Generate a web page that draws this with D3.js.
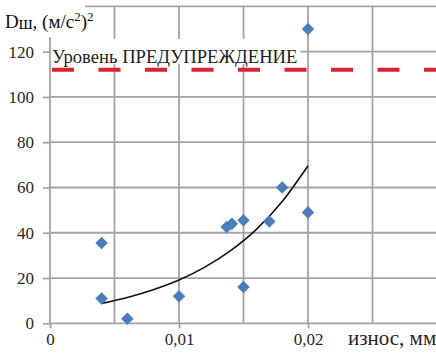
<!DOCTYPE html>
<html>
<head>
<meta charset="utf-8">
<script src="https://cdn.jsdelivr.net/npm/d3@7"></script>
<style>
  html, body { margin: 0; padding: 0; background: #fff; overflow: hidden; }
  svg { display: block; }
</style>
</head>
<body>
<svg id="chart" width="436" height="361"></svg>
<script>
// Wear of the bearing (mm) against vibration parameter Dш, (m/s²)²
const wear = [0.004, 0.004, 0.006, 0.010, 0.0137, 0.0141, 0.015, 0.015, 0.017, 0.018, 0.020, 0.020];
const dsh  = [35.5, 11, 2, 12, 42.5, 44, 45.5, 16, 45, 60, 49, 130];

// Trend curve read along its course
const trendX = [0.004, 0.006, 0.008, 0.010, 0.012, 0.014, 0.016, 0.018, 0.020];
const trendY = [8.8, 11.4, 14.8, 19.1, 24.8, 32.1, 41.5, 53.8, 69.6];

// Warning threshold
const warningLevel = 112;
const warningLabel = "Уровень ПРЕДУПРЕЖДЕНИЕ";

const yTicks = [0, 20, 40, 60, 80, 100, 120];
const yGrid = [20, 40, 60, 80, 100, 120, 140];
const xLabelTicks = [0, 0.01, 0.02];
const xGrid = [0.005, 0.01, 0.015, 0.02, 0.025, 0.03];
const xTitle = "износ, мм";

const serif = "Times New Roman, Times, Liberation Serif, Noto Serif, DejaVu Serif, serif";
const svg = d3.select("#chart").style("font-family", serif);
const x = d3.scaleLinear().domain([0, 0.03]).range([50, 437]);
const y = d3.scaleLinear().domain([0, 140]).range([323.3, 6.4]);

const gridColor = "#a4a4a4";
const textColor = "#262626";

// Gridlines
svg.append("g").selectAll("line").data(yGrid).join("line")
  .attr("x1", x(0)).attr("x2", 436)
  .attr("y1", d => y(d)).attr("y2", d => y(d))
  .attr("stroke", gridColor).attr("stroke-width", 1.8);
svg.append("g").selectAll("line").data(xGrid).join("line")
  .attr("x1", d => x(d)).attr("x2", d => x(d))
  .attr("y1", y(140)).attr("y2", y(0))
  .attr("stroke", gridColor).attr("stroke-width", 1.8);

// Axes
const yAxis = d3.axisLeft(y).tickValues(yTicks).tickSize(7).tickPadding(9)
  .tickFormat(d3.format("d"));
const gy = svg.append("g").attr("transform", `translate(${x(0)},0)`).call(yAxis)
  .attr("font-family", null).attr("font-size", 17);
gy.select(".domain").remove();
gy.append("line").attr("x1", 0).attr("x2", 0).attr("y1", y(140)).attr("y2", y(0))
  .attr("stroke", gridColor).attr("stroke-width", 1.8);
gy.selectAll(".tick line").attr("stroke", gridColor).attr("stroke-width", 1.8);
gy.selectAll(".tick text").attr("fill", textColor);

const xAxis = d3.axisBottom(x).tickValues(xLabelTicks).tickSize(5).tickPadding(5)
  .tickFormat(d => d === 0 ? "0" : d3.format(".2f")(d).replace(".", ","));
const gx = svg.append("g").attr("transform", `translate(0,${y(0)})`).call(xAxis)
  .attr("font-family", null).attr("font-size", 17);
gx.select(".domain").remove();
gx.append("line").attr("x1", x(0)).attr("x2", 436).attr("y1", 0).attr("y2", 0)
  .attr("stroke", gridColor).attr("stroke-width", 1.8);
gx.selectAll(".tick line").attr("stroke", gridColor).attr("stroke-width", 1.8);
gx.selectAll(".tick text").attr("fill", textColor);

// Axis title on the x side
svg.append("text").attr("x", 348).attr("y", 345)
  .attr("font-size", 21).attr("fill", textColor).text(xTitle);

// Warning level line
svg.append("line")
  .attr("x1", x(0) + 2).attr("x2", 436)
  .attr("y1", y(warningLevel)).attr("y2", y(warningLevel))
  .attr("stroke", "#d9232e").attr("stroke-width", 4)
  .attr("stroke-dasharray", "22,24.5");

// Warning label with white box behind it
const lbl = svg.append("g");
const lblBox = lbl.append("rect").attr("fill", "#fff");
const lblText = lbl.append("text").attr("x", 52).attr("y", 63)
  .attr("font-size", 18.6).attr("fill", "#1e1e1e").text(warningLabel);
const bb = lblText.node().getBBox();
lblBox.attr("x", 51).attr("y", 39).attr("width", bb.x + bb.width - 51 + 3).attr("height", 25);

// Trend curve
const trend = d3.line().x(d => x(d[0])).y(d => y(d[1])).curve(d3.curveMonotoneX);
svg.append("path")
  .datum(trendX.map((v, i) => [v, trendY[i]]))
  .attr("d", trend).attr("fill", "none")
  .attr("stroke", "#111").attr("stroke-width", 1.6);

// Data points (diamonds)
const diamond = d3.symbol().type(d3.symbolDiamond2).size(100);
svg.append("g").selectAll("path").data(wear.map((v, i) => [v, dsh[i]])).join("path")
  .attr("transform", d => `translate(${x(d[0])},${y(d[1])})`)
  .attr("d", diamond)
  .attr("fill", "#4a7ebb");

// Vertical axis title with white box
svg.append("rect").attr("x", 0).attr("y", 0).attr("width", 85).attr("height", 37).attr("fill", "#fff");
const title = svg.append("text").attr("x", 5).attr("y", 28)
  .attr("font-size", 19).attr("fill", "#111");
title.append("tspan").text("D");
title.append("tspan").text("ш").attr("font-size", 18).attr("dy", 1);
title.append("tspan").text(", (м/с").attr("font-size", 19).attr("dy", -1);
title.append("tspan").text("2").attr("font-size", 13).attr("dy", -7);
title.append("tspan").text(")").attr("font-size", 19).attr("dy", 7);
title.append("tspan").text("2").attr("font-size", 13).attr("dy", -7);
</script>
</body>
</html>
